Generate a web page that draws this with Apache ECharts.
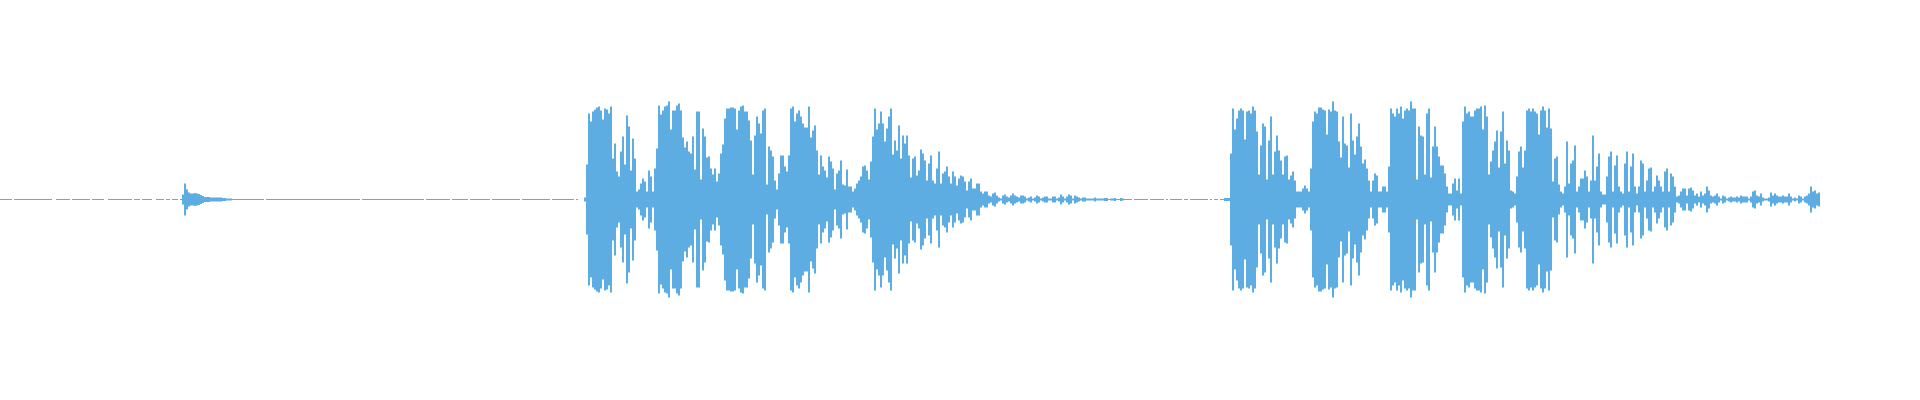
<!DOCTYPE html>
<html>
<head>
<meta charset="utf-8">
<style>html,body{margin:0;padding:0;background:#fff}#c{width:1920px;height:400px}</style>
<script src="https://cdn.jsdelivr.net/npm/echarts@6/dist/echarts.min.js"></script>
</head>
<body>
<div id="c"></div>
<script>
// Half-height of the waveform per 2px-wide time slot.
const leadIn = [
.5,.5,.5,.5,.5,.5,0,.5,.5,.5,.5,.5,.5,.5,.5,.5,.5,.5,.5,.5,.5,.5,.5,.5,.5,.5,0,0,.5,.5,
.5,.5,.5,.5,.5,0,.5,.5,.5,.5,.5,.5,.5,.5,.5,0,.5,.5,.5,.5,.5,.5,0,0,.5,.5,.5,.5,.5,.5,
.5,.5,.5,.5,.5,.5,0,.5,.5,.5,0,.5,.5,.5,.5,.5,0,0,.5,.5,.5,.5,0,.5,.5,0,.5,.5,.5,0,.5];
const clickDecay = [5,16,10,7,6,6,6.5,6,5.5,4.5,3.5,2.5,2.5,2.5,2,2,2,2,2,2,1.5,1.5,1,1,1];
const silenceOne = [
.5,.5,.5,.5,.5,.5,.5,.5,.5,.5,.5,.5,.5,.5,.5,.5,0,.5,.5,.5,
.5,.5,.5,.5,.5,.5,.5,.5,.5,.5,.5,.5,.5,.5,.5,.5,.5,.5,.5,.5,
.5,.5,.5,.5,.5,.5,.5,.5,.5,.5,.5,.5,.5,.5,.5,.5,.5,.5,.5,.5,
.5,.5,.5,.5,0,.5,.5,.5,.5,.5,.5,.5,.5,.5,.5,.5,.5,.5,.5,.5,
.5,.5,.5,.5,.5,.5,.5,.5,.5,.5,.5,.5,.5,.5,.5,.5,0,.5,.5,.5,
.5,.5,.5,.5,.5,.5,.5,.5,.5,0,.5,.5,.5,.5,.5,.5,.5,.5,0,.5,
.5,.5,.5,.5,.5,.5,.5,.5,.5,0,.5,.5,.5,.5,.5,.5,.5,.5,.5,.5,
.5,.5,.5,.5,0,.5,.5,.5,.5,.5,.5,.5,.5,.5,.5,.5,.5,.5,.5,0,
.5,.5,.5,.5,.5,.5,.5,.5,.5,.5,.5,0,.5,0,0,0];
const burstOne = [2,
35,86,78,88,90,92,93,89,80,91,90,86,93,41,56,28,23,48,63,35,84,73,29,61,41,8,10,16,21,18,8,29,23,8,31,51,
94,85,89,93,94,98,70,89,89,94,96,89,62,52,58,48,46,63,30,88,88,20,71,63,42,43,31,25,31,18,26,46,55,81,
91,91,92,92,91,70,89,93,94,88,88,79,59,25,64,83,76,66,89,91,15,53,49,43,19,10,26,44,44,33,28,44,
91,93,78,86,89,83,76,72,72,93,62,69,74,49,25,44,33,29,22,43,38,31,10,26,29,39,15,14,30,13,13,8,11,16,19,23,33,34,29,20,38,63,
91,70,76,88,76,58,71,83,91,45,59,49,74,41,64,56,64,44,22,41,43,24,29,50,46,39,19,36,44,19,16,31,48,16,26,28,33,23,16,28,23,14,21,24,23,18,9,18,21,11,11,16,16,8,6,8,8,4,3,6,7,4,2,1,4,5,3,2,4,6,4,3,2];
const fadeOne = [
4,4,3,1,2,3,1,2,4,3,1,2,3,3,1,1,3,3,1,2,5,3,1,3,5,4,1,4,3,2,1,2,2,1,1,1,1,2,1,1,1,1,1.5,1.5,.5,1,1,1.5,.5,.5,1.5,1,.5,.5,.5,.5,0];
const silenceTwo = [
.5,.5,.5,.5,.5,.5,.5,0,.5,.5,.5,.5,.5,.5,.5,0,.5,0,.5,.5,.5,.5,.5,.5,0,.5,.5,0,.5,.5,.5,.5,.5,.5,.5,.5,.5,0,.5,0,.5,.5,0,.5,.5,
1.5,1.5,1.5];
const burstTwo = [
46,91,70,81,89,91,89,60,88,89,86,93,89,68,25,54,76,73,20,59,83,25,48,64,49,39,25,43,44,20,24,28,19,8,8,8,11,14,11,8,31,
78,88,86,92,92,90,89,65,90,88,98,89,88,58,42,83,56,54,32,86,59,45,63,76,53,36,40,31,19,8,19,26,24,8,8,13,13,8,33,
91,86,83,91,86,93,81,89,91,89,98,91,91,20,73,64,63,25,86,91,22,53,73,53,43,34,34,26,13,6,6,16,21,9,21];
const burstThree = [
6,78,93,86,88,83,83,89,91,91,93,70,94,83,25,38,49,58,69,32,68,88,36,59,49,9,8,6,23,48,53,32,49,
89,91,88,91,88,86,65,89,93,89,72,91,71,18,41,43,15,8,6,13,58,16,36,39,54,8,13,21,21,29,23,8,19,64,19,33,46,8,5,5,23,43,48,8,34,44,13,8,6,36,48,8,33,46,13,6,13,39,36,8,19,31,32,8,13,24,19,13,8,28,31,8,26,23,13];
const tailNoise = [
3,4,8,11,11,4,11,12,9,4,6,3,8,4,6,13,9,4,3,4,6,3,1,4,3,1,2,3,2,2,3,2,4,3,3,3,1,3,8,9,4,3,6,2,1,1,2,7,4,6,4,3,3,4,3,3,6,3,1,2,1,4,3,1,3,4,6,13,8,9,6,7];

const amplitude = [].concat(leadIn, clickDecay, silenceOne, burstOne, fadeOne, silenceTwo, burstTwo, burstThree, tailNoise);
const slots = amplitude.map((_, i) => i);
while (slots.length < 960) slots.push(slots.length);

const chart = echarts.init(document.getElementById('c'), null, {renderer: 'canvas'});
chart.setOption({
  animation: false,
  backgroundColor: '#ffffff',
  grid: {left: 0, right: 0, top: 0, height: 399},
  xAxis: {type: 'category', data: slots, boundaryGap: true, show: false},
  yAxis: {type: 'value', min: -199.5, max: 199.5, show: false},
  series: [{
    type: 'custom',
    silent: true,
    data: amplitude.map((v, i) => [i, v]),
    encode: {x: 0, y: 1},
    clip: false,
    renderItem: (params, api) => {
      const v = api.value(1);
      if (!v) return null;
      const top = api.coord([api.value(0), v]);
      const bottom = api.coord([api.value(0), -v]);
      const w = api.size([1, 0])[0];
      return {
        type: 'rect',
        shape: {x: top[0] - w / 2, y: top[1], width: w, height: bottom[1] - top[1]},
        style: {fill: '#5dade2'}
      };
    }
  }]
});
</script>
</body>
</html>
